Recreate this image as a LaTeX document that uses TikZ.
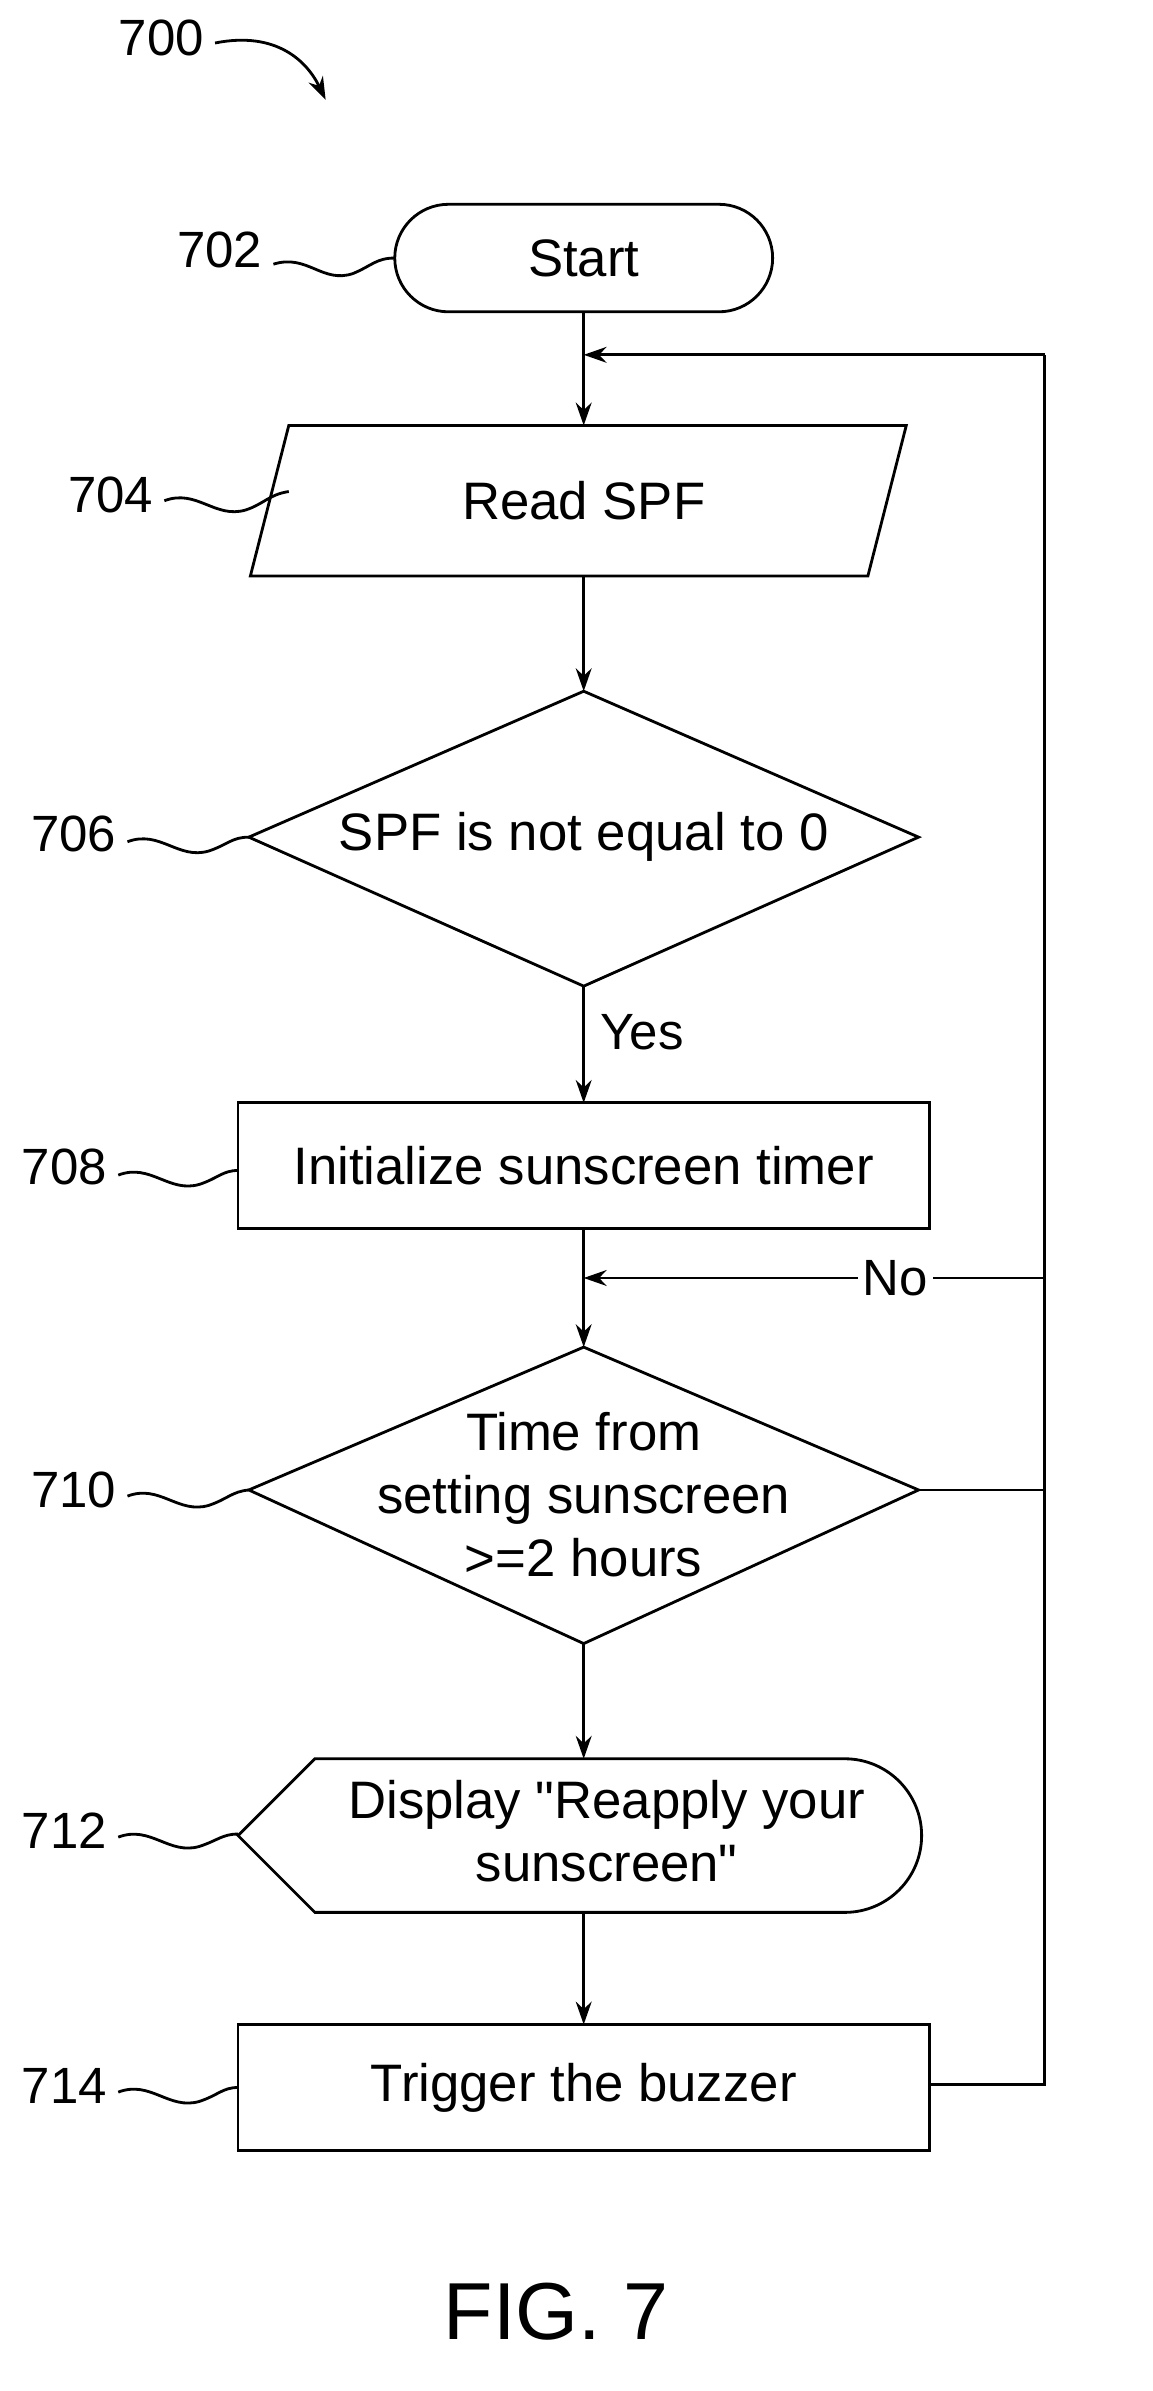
\documentclass[tikz,border=0pt]{standalone}
\usepackage{fontspec}
\setmainfont{Liberation Sans}[Ligatures=TeXOff]
\usetikzlibrary{arrows.meta,shapes.geometric,shapes.symbols}
\begin{document}
\begin{tikzpicture}[x=0.03072cm,y=-0.03072cm,
  lw/.style={line width=1.6pt},
  arr/.style={lw,-{Stealth[length=13pt,width=9pt]}},
  lbl/.style={font=\fontsize{29}{32}\selectfont},
  txt/.style={font=\fontsize{30}{36}\selectfont,align=center}]
\useasboundingbox (0,0) rectangle (750,1556.6);
% start
\draw[lw] (292,133) -- (468,133) arc[start angle=-90,end angle=90,radius=35] -- (292,203) arc[start angle=90,end angle=270,radius=35] -- cycle;
\node[txt] (start) at (380,168) {Start};
\coordinate (startb) at (380,203);
% read SPF
\draw[lw] (188,277) -- (590,277) -- (565,375) -- (163,375) -- cycle;
\node[txt] (read) at (380,326) {Read SPF};
\coordinate (readt) at (380,277); \coordinate (readb) at (380,375);
% diamond 706
\draw[lw] (380,450) -- (598,545) -- (380,642) -- (162,545) -- cycle;
\node[txt] (d706) at (380,545) {SPF is not equal to 0};
\coordinate (d706t) at (380,450); \coordinate (d706b) at (380,642);
% rect 708
\draw[lw] (155,718) rectangle (605,800);
\node[txt] (init) at (380,759) {Initialize sunscreen timer};
\coordinate (initt) at (380,718); \coordinate (initb) at (380,800);
% diamond 710
\draw[lw] (380,877) -- (598,970) -- (380,1070) -- (162,970) -- cycle;
\node[txt] (d710) at (380,973) {Time from\\setting sunscreen\\>=2 hours};
\coordinate (d710t) at (380,877); \coordinate (d710b) at (380,1070);
\coordinate (d710r) at (598,970);
% display 712
\draw[lw] (155,1195) -- (205,1145) -- (550,1145) arc[start angle=-90,end angle=90,radius=50] -- (205,1245) -- cycle;
\node[txt] (disp) at (395,1192) {Display "Reapply your\\sunscreen"};
\coordinate (dispt) at (380,1145); \coordinate (dispb) at (380,1245);
% rect 714
\draw[lw] (155,1318) rectangle (605,1400);
\node[txt] (trig) at (380,1359) {Trigger the buzzer};
\coordinate (trigt) at (380,1318); \coordinate (trigr) at (605,1357);
% connectors
\coordinate (j1) at (380,231); \coordinate (rc1) at (680,1357); \coordinate (rc2) at (680,231);
\draw[lw] (startb) -- (j1);
\draw[arr] (j1) -- (readt);
\draw[lw] (trigr) -- (rc1) -- (rc2);
\draw[arr] (rc2) -- (j1);
\draw[arr] (readb) -- (d706t);
\draw[arr] (d706b) -- (initt);
\node[lbl] (yes) at (418,672) {Yes};
\coordinate (j2) at (380,832);
\draw[lw] (initb) -- (j2);
\draw[arr] (j2) -- (d710t);
\coordinate (n1) at (680,970); \coordinate (n2) at (680,832);
\draw[lw] (d710r) -- (n1) -- (n2);
\draw[arr] (n2) -- (j2);
\node[lbl,fill=white,inner sep=3pt] (no) at (583,832) {No};
\draw[arr] (d710b) -- (dispt);
\draw[arr] (dispb) -- (trigt);
% reference labels
\node[lbl] (l700) at (105,25) {700};
\draw[arr] (140,28) .. controls (180,20) and (200,40) .. (212,65);
\node[lbl] (l702) at (143,163) {702};
\draw[lw] (178,172) .. controls (200,165) and (210,185) .. (230,178) .. controls (242,173) and (245,168) .. (257,168);
\node[lbl] (l704) at (72,322) {704};
\draw[lw] (107,326) .. controls (128,318) and (140,338) .. (160,332) .. controls (172,328) and (175,322) .. (188,320);
\node[lbl] (l706) at (48,543) {706};
\draw[lw] (83,548) .. controls (104,540) and (116,560) .. (136,554) .. controls (148,550) and (151,545) .. (162,545);
\node[lbl] (l708) at (42,760) {708};
\draw[lw] (77,765) .. controls (98,757) and (110,777) .. (130,771) .. controls (142,767) and (145,762) .. (155,762);
\node[lbl] (l710) at (48,970) {710};
\draw[lw] (83,974) .. controls (104,966) and (116,986) .. (136,980) .. controls (148,976) and (151,971) .. (162,970);
\node[lbl] (l712) at (42,1192) {712};
\draw[lw] (77,1196) .. controls (98,1188) and (110,1208) .. (130,1202) .. controls (142,1198) and (145,1194) .. (155,1194);
\node[lbl] (l714) at (42,1358) {714};
\draw[lw] (77,1362) .. controls (98,1354) and (110,1374) .. (130,1368) .. controls (142,1364) and (145,1359) .. (155,1359);
\node[font=\fontsize{46}{50}\selectfont] (fig) at (362,1505) {FIG. 7};
\end{tikzpicture}
\end{document}
